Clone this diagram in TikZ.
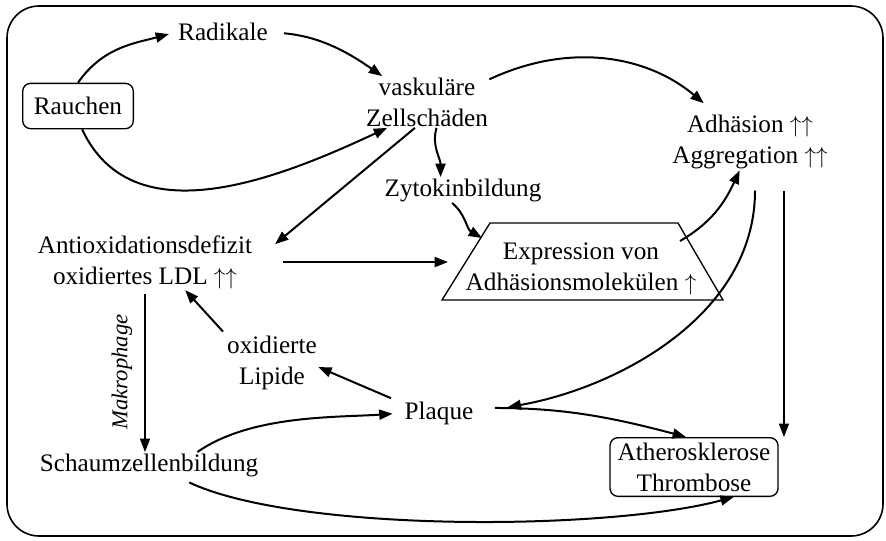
\documentclass[tikz,border=0pt]{standalone}
\usepackage{fontspec}
\setmainfont{Liberation Serif}
\usetikzlibrary{arrows.meta}

\tikzset{every picture/.style={line width=0.75pt}}
\tikzset{
  txt/.style={inner sep=0.75pt, align=center, font=\fontsize{18.9}{23.3}\selectfont},
  rbox/.style={txt, draw, rounded corners=6pt, line width=1},
  arr/.style={line width=1.5, -{Triangle[length=10pt,width=7.5pt]}},
  thinarr/.style={line width=1, -{Triangle[length=10pt,width=7.5pt]}},
}
\newcommand{\upup}{$\uparrow\uparrow$}

\begin{document}
\begin{tikzpicture}[x=0.75pt,y=0.75pt,yscale=-1,xscale=1]
\useasboundingbox (0,0) rectangle (886,540);

%Rounded Rect [frame]
\draw [line width=1.2, rounded corners=24pt] (7,6) rectangle (883,536);

% Text Node
\node (rauchen) at (78,106) [rbox, minimum width=83pt, minimum height=34pt] {Rauchen};
% Text Node
\node (radikale) at (223,32) [txt] {Radikale};
% Text Node
\node (vask) at (427,102) [txt] {vaskuläre\\Zellschäden};
% Text Node
\node (zytokin) at (463,190) [txt] {Zytokinbildung};
% Text Node
\node (adh) at (750,142) [txt] {Adhäsion \upup\\Aggregation \upup};
% Text Node
\node (antiox) at (145,262) [txt] {Antioxidationsdefizit\\oxidiertes LDL \upup};
% Text Node
\node (expr) at (581,269) [txt] {Expression von\\Adhäsionsmolekülen $\uparrow$};
% Text Node
\node (lipide) at (272,363) [txt] {oxidierte\\Lipide};
% Text Node
\node (plaque) at (439,413) [txt] {Plaque};
% Text Node
\node (schaum) at (149,465) [txt] {Schaumzellenbildung};
% Text Node
\node (athero) at (694,467) [rbox, minimum width=126pt, minimum height=44pt] {Atherosklerose\\Thrombose};
% Text Node
\node (makro) at (122,372) [txt, rotate=90, font=\fontsize{17}{20}\selectfont\itshape] {Makrophage};

%Trapezoid [expression]
\draw [line width=1] (490,223) -- (678,223) -- (723,300) -- (442,300) -- cycle;
\coordinate (exprtl) at (482,238);
\coordinate (exprl) at (448,262);
\coordinate (exprtr) at (680,241);

%Curve Lines (angles flipped by yscale=-1)
\draw [arr, shorten >=6pt] (rauchen.north) to[out=-55,in=-195] (radikale.west);
\draw [arr, shorten <=11pt] (radikale.east) to[out=5,in=-145] (vask.150);
\draw [arr] (rauchen.-80) to[out=65,in=-205] (vask.213);
\draw [arr, shorten >=12pt] (vask.20) to[out=-25,in=-140] (adh.140);
\draw [arr] (vask.-70) to[out=105,in=-90] (zytokin.150);
\draw [arr, shorten >=21pt] (vask.-115) -- (antiox.east);
\draw [arr] (zytokin.-130) to[out=40,in=-150] (exprtl);
\draw [arr, shorten <=22pt] (antiox.east) -- (exprl);
\draw [arr] (exprtr) to[out=-30,in=115] (adh.-110);
\draw [arr, shorten <=15pt, shorten >=25pt] (adh.-80) to[out=90,in=-10] (plaque.east);
\draw [thinarr, shorten <=15pt] (adh.-40) -- (athero.north -| adh.-40);
\draw [thinarr, shorten <=3pt] (antiox.south) -- (antiox.south |- schaum.north);
\draw [arr, shorten <=3pt] (lipide.north west) -- (antiox.-35);
\draw [arr, shorten <=10pt] (plaque.165) -- (lipide.-5);
\draw [arr, shorten >=8pt] (schaum.15) to[out=-35,in=-184,looseness=0.8] (plaque.west);
\draw [arr, shorten <=15pt] (plaque.8) to[out=0,in=-165] (athero.105);
\draw [arr, shorten <=8pt] (schaum.-23) to[out=25,in=-195,looseness=0.6] (athero.-37);

\end{tikzpicture}
\end{document}
